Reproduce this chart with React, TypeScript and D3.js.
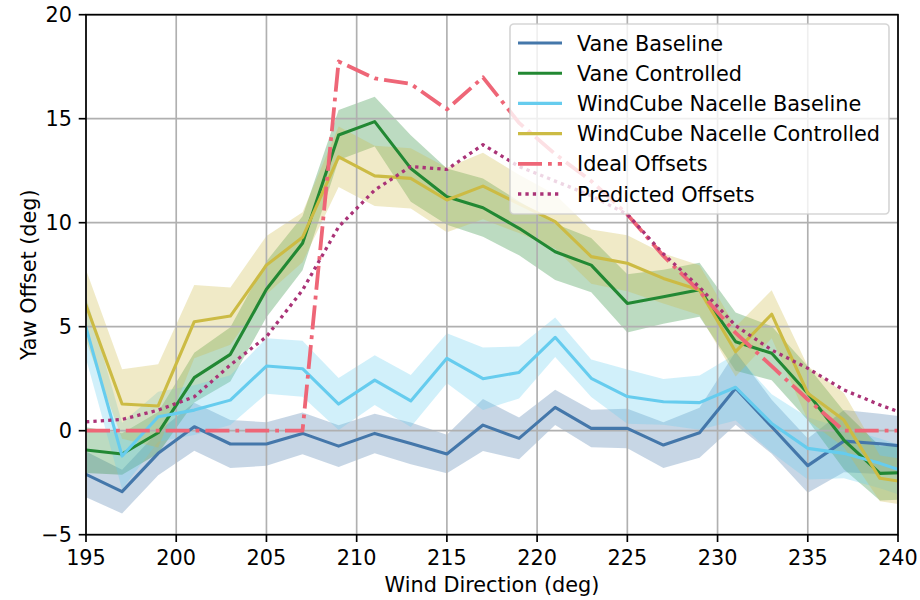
import React from 'react';
import * as d3 from 'd3';

const windDir = [195, 197, 199, 201, 203, 205, 207, 209, 211, 213, 215, 217, 219, 221, 223, 225, 227, 229, 231, 233, 235, 237, 239, 241];

const vaneBaseline = [-2.1, -2.93, -1.09, 0.19, -0.64, -0.64, -0.13, -0.74, -0.13, -0.61, -1.12, 0.27, -0.37, 1.12, 0.11, 0.11, -0.69, -0.1, 2.04, 0.19, -1.68, -0.5, -0.63, -0.8];
const vaneBaselineErr = [1.1, 1.05, 1.05, 1.15, 1.15, 1.05, 1.0, 1.0, 0.95, 1.0, 0.92, 1.25, 1.0, 0.85, 0.9, 0.95, 1.1, 1.2, 1.75, 1.3, 1.3, 1.5, 1.45, 1.4];

const vaneControlled = [-0.93, -1.12, -0.1, 2.55, 3.67, 6.8, 9.01, 14.22, 14.86, 12.61, 11.25, 10.72, 9.73, 8.6, 7.96, 6.12, 6.44, 6.78, 4.28, 3.72, 1.8, -0.45, -2.05, -2.0];
const vaneControlledErr = [1.1, 1.0, 1.0, 1.2, 1.3, 1.35, 1.3, 1.2, 1.2, 1.6, 1.35, 1.4, 1.3, 1.35, 1.3, 1.4, 1.3, 1.3, 1.4, 1.3, 1.3, 1.4, 1.3, 1.3];

const windCubeBaseline = [4.97, -1.22, 0.67, 0.99, 1.47, 3.11, 2.98, 1.28, 2.43, 1.43, 3.48, 2.5, 2.8, 4.49, 2.52, 1.64, 1.39, 1.35, 2.09, 0.35, -0.85, -1.09, -1.57, -2.15];
const windCubeBaselineErr = [1.5, 1.6, 1.2, 1.2, 1.2, 1.33, 1.35, 1.25, 1.2, 1.25, 1.2, 1.5, 1.25, 0.95, 0.9, 1.3, 1.1, 1.3, 1.6, 1.4, 1.5, 1.2, 1.2, 1.2];

const windCubeControlled = [6.04, 1.28, 1.19, 5.24, 5.51, 7.96, 9.3, 13.17, 12.25, 12.13, 11.09, 11.76, 10.9, 10.05, 8.37, 8.05, 7.32, 6.76, 3.8, 5.6, 1.8, 0.51, -2.29, -2.55];
const windCubeControlledErr = [1.7, 1.67, 2.0, 1.76, 1.38, 1.4, 1.2, 1.45, 1.45, 1.45, 1.55, 1.6, 1.4, 1.3, 1.3, 1.35, 1.2, 1.2, 1.2, 1.15, 1.3, 1.3, 1.1, 1.1];

const idealOffsets = [0, 0, 0, 0, 0, 0, 0, 17.75, 16.94, 16.67, 15.45, 16.99, 14.8, 13.3, 12.0, 10.4, 8.4, 6.7, 4.7, 3.1, 1.5, 0, 0, 0];
const predictedOffsets = [0.43, 0.54, 0.99, 1.63, 3.16, 4.52, 6.76, 9.8, 11.57, 12.7, 12.56, 13.75, 12.7, 12.0, 11.3, 10.4, 8.5, 6.9, 5.05, 3.88, 3.0, 1.96, 1.24, 0.6];

const xTicks = [195, 200, 205, 210, 215, 220, 225, 230, 235, 240];
const yTicks = [-5, 0, 5, 10, 15, 20];

const seriesNames = ['Vane Baseline', 'Vane Controlled', 'WindCube Nacelle Baseline', 'WindCube Nacelle Controlled', 'Ideal Offsets', 'Predicted Offsets'];
const seriesColors = ['#4477AA', '#228833', '#66CCEE', '#CCBB44', '#EE6677', '#AA3377'];

const FONT = 'DejaVu Sans';
const FS = 20.8;

export default function App() {
  const W = 920, H = 600;
  const left = 86, right = 898, top = 14.7, bottom = 534.7;
  const x = d3.scaleLinear().domain([195, 240]).range([left, right]);
  const y = d3.scaleLinear().domain([-5, 20]).range([bottom, top]);

  const bands = [
    { v: vaneBaseline, e: vaneBaselineErr, c: seriesColors[0] },
    { v: vaneControlled, e: vaneControlledErr, c: seriesColors[1] },
    { v: windCubeBaseline, e: windCubeBaselineErr, c: seriesColors[2] },
    { v: windCubeControlled, e: windCubeControlledErr, c: seriesColors[3] },
  ];
  const lines = [
    { v: vaneBaseline, c: seriesColors[0], dash: undefined as string | undefined, w: 3.1 },
    { v: vaneControlled, c: seriesColors[1], dash: undefined, w: 3.1 },
    { v: windCubeBaseline, c: seriesColors[2], dash: undefined, w: 3.1 },
    { v: windCubeControlled, c: seriesColors[3], dash: undefined, w: 3.1 },
    { v: idealOffsets, c: seriesColors[4], dash: '24,6,3.8,6', w: 3.8 },
    { v: predictedOffsets, c: seriesColors[5], dash: '3.3,4.1', w: 3.3 },
  ];

  const area = (v: number[], e: number[]) =>
    d3.area<number>()
      .x((_, i) => x(windDir[i]))
      .y0((_, i) => y(v[i] - e[i]))
      .y1((_, i) => y(v[i] + e[i]))(v) || '';
  const line = (v: number[]) =>
    d3.line<number>().x((_, i) => x(windDir[i])).y((d) => y(d))(v) || '';

  const legX = 510, legY = 24, legW = 379, legH = 190;
  const rowY = (i: number) => 43 + i * 30.2;

  return (
    <svg width={W} height={H} style={{ position: 'absolute', left: 0, top: 0, background: '#fff' }} fontFamily={FONT}>
      <defs>
        <clipPath id="plotclip">
          <rect x={left} y={top} width={right - left} height={bottom - top} />
        </clipPath>
      </defs>
      <rect x={0} y={0} width={W} height={H} fill="#fff" />
      <g clipPath="url(#plotclip)">
        {bands.map((b, i) => (
          <path key={'b' + i} d={area(b.v, b.e)} fill={b.c} fillOpacity={0.3} stroke="none" />
        ))}
      </g>
      {/* grid */}
      <g stroke="#b0b0b0" strokeWidth={1.67}>
        {xTicks.map((t) => (
          <line key={'gx' + t} x1={x(t)} x2={x(t)} y1={top} y2={bottom} />
        ))}
        {yTicks.map((t) => (
          <line key={'gy' + t} x1={left} x2={right} y1={y(t)} y2={y(t)} />
        ))}
      </g>
      <g clipPath="url(#plotclip)">
        {lines.map((l, i) => (
          <path key={'l' + i} d={line(l.v)} fill="none" stroke={l.c} strokeWidth={l.w}
            strokeDasharray={l.dash} strokeLinejoin="round" strokeLinecap={l.dash ? 'butt' : 'square'} />
        ))}
      </g>
      {/* spines */}
      <rect x={left} y={top} width={right - left} height={bottom - top} fill="none" stroke="#000" strokeWidth={1.67} />
      {/* ticks */}
      <g stroke="#000" strokeWidth={1.67}>
        {xTicks.map((t) => (
          <line key={'tx' + t} x1={x(t)} x2={x(t)} y1={bottom} y2={bottom + 7.3} />
        ))}
        {yTicks.map((t) => (
          <line key={'ty' + t} x1={left - 7.3} x2={left} y1={y(t)} y2={y(t)} />
        ))}
      </g>
      <g fontSize={FS} fill="#000">
        {xTicks.map((t) => (
          <text key={'lx' + t} x={x(t)} y={565} textAnchor="middle">{String(t)}</text>
        ))}
        {yTicks.map((t) => (
          <text key={'ly' + t} x={left - 14} y={y(t) + 7.5} textAnchor="end">{t < 0 ? '\u2212' + Math.abs(t) : String(t)}</text>
        ))}
        <text x={(left + right) / 2} y={592} textAnchor="middle">Wind Direction (deg)</text>
        <text transform={`translate(36,${(top + bottom) / 2}) rotate(-90)`} textAnchor="middle">Yaw Offset (deg)</text>
      </g>
      {/* legend */}
      <rect x={legX} y={legY} width={legW} height={legH} rx={4} ry={4} fill="#fff" fillOpacity={0.8} stroke="#cccccc" strokeOpacity={0.8} strokeWidth={1.67} />
      {lines.map((l, i) => (
        <g key={'leg' + i}>
          <line x1={518} x2={562} y1={rowY(i)} y2={rowY(i)} stroke={l.c} strokeWidth={l.w} strokeDasharray={l.dash} />
          <text x={577} y={rowY(i) + 7.5} fontSize={FS} fill="#000">{seriesNames[i]}</text>
        </g>
      ))}
    </svg>
  );
}
